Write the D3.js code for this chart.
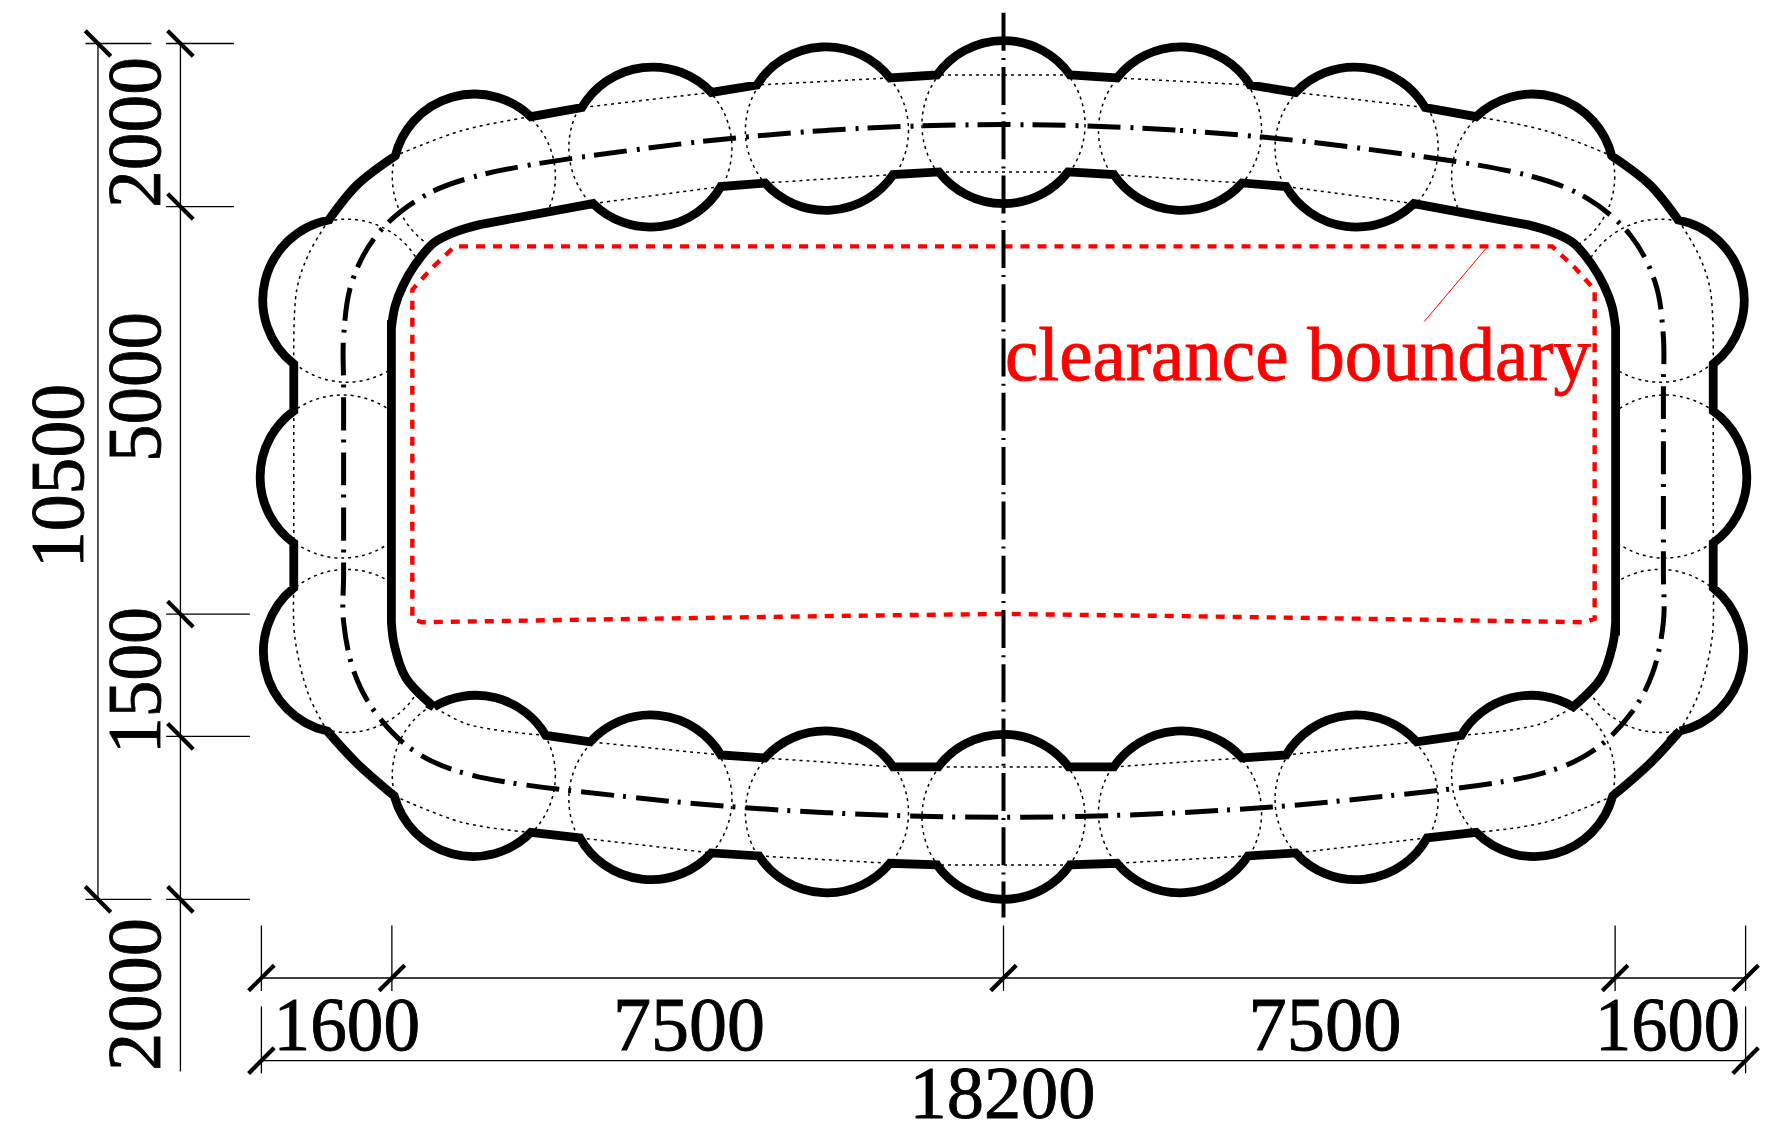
<!DOCTYPE html>
<html>
<head>
<meta charset="utf-8">
<script src="https://d3js.org/d3.v7.min.js"></script>
<style>
html,body{margin:0;padding:0;background:#fff}
svg{display:block}
text{font-family:"Liberation Serif","Times New Roman",serif;font-size:77px;fill:#000;stroke:#000;stroke-width:0.9px}
</style>
</head>
<body>
<svg id="chart" width="1782" height="1135"></svg>
<script>
// ---- data: section geometry in millimetres (x from the axis, y from the top dimension line), right half ----
const verticalSpans = [2000, 5000, 1500, 2000];
const horizontalSpans = [1600, 7500, 7500, 1600];
const overallWidth = 18200;
const overallHeight = 10500;
const boundaryLabel = "clearance boundary";
const pileRadius = 1000;

// pile centres [x, y], right half and axis
const pileCentres = [
  [0,995],[2165,1066],[4330,1279],[6495,1635],
  [8053,3155],[8107,5312],[8053,7452],
  [6495,8978],[4330,9271],[2165,9436],[0,9493]
];

// contour nodes: [x, y, kind of the segment that arrives here] (A arc, L line, C curve)
const outerContour = [
  [816,386,"M"],[1392,423,"L"],[3024,509,"A"],[3582,600,"L"],[5171,786,"A"],[5796,898,"L"],
  [7458,1378,"A"],[7925,1733,"C"],[8274,2165,"C"],[8703,3932,"A"],[8703,4508,"L"],
  [8703,6127,"A"],[8703,6679,"L"],[8293,8434,"A"],[7925,8834,"C"],[7471,9231,"C"],
  [5796,9679,"A"],[5195,9746,"L"],[3582,9930,"A"],[2999,9967,"L"],[1392,10057,"A"],[816,10077,"L"]
];
const innerContour = [
  [791,1576,"M"],[1352,1608,"L"],[2926,1711,"A"],[3465,1755,"L"],[5032,1964,"A"],[6422,2222,"L"],
  [6720,2310,"C"],[6984,2444,"C"],[7220,2720,"C"],[7366,2975,"C"],[7460,3220,"C"],[7506,3490,"C"],
  [7506,7096,"L"],[7470,7380,"C"],[7330,7780,"C"],[6986,8137,"C"],
  [5612,8488,"A"],[5068,8568,"L"],[3465,8728,"A"],[2926,8765,"L"],[1352,8875,"A"],[800,8875,"L"]
];

// centre line of the pile ring, right half
const ringLine = [
  [0,995],[2165,1066],[4330,1279],[6495,1635],[7158,1901],[7685,2349],[7992,2933],[8092,3600],
  [8092,4200],[8092,5300],[8092,6500],[8092,7096],[7960,7722],[7716,8188],[7262,8654],[6635,8945],
  [4330,9271],[2165,9436],[0,9493]
];

// dotted guide lines inside each pile, right half
const guideLines = [
  [[1392,423],[3024,509]],[[3582,600],[5171,786]],[[5796,898],[6635,1066],[7458,1378]],
  [[8274,2165],[8517,2577],[8667,3023],[8703,3932]],[[8703,4508],[8703,6127]],
  [[8703,6679],[8691,7278],[8521,7989],[8293,8434]],[[7471,9231],[6635,9556],[5796,9679]],
  [[5195,9746],[3582,9930]],[[2999,9967],[1392,10057]],
  [[1352,1608],[2926,1711]],[[3465,1755],[5032,1964]],
  [[1352,8875],[2926,8765]],[[3465,8728],[5068,8568]],[[5612,8488],[6563,8354],[6986,8137]]
];
// chords crossing the axis
const axisChords = [[816,386],[816,10077],[791,1576],[800,8875]];

// clearance boundary, right half
const clearanceLine = [
  [0,2489],[6729,2489],[7010,2754],[7249,3021],[7249,7056],[7133,7100],
  [4336,7056],[2226,7025],[0,6998]
];
const leaderLine = [[5938,2489],[5158,3413]];

// ---- scales ----
const x = d3.scaleLinear().domain([-overallWidth/2, overallWidth/2]).range([261.4, 1745.6]);
const y = d3.scaleLinear().domain([0, overallHeight]).range([43.5, 899.4]);
const r = v => x(v) - x(0);
const svg = d3.select("#chart");

const mirror = p => [-p[0], p[1]];
const curve = d3.line().x(d => x(d[0])).y(d => y(d[1])).curve(d3.curveCatmullRom.alpha(0.5));
const straight = d3.line().x(d => x(d[0])).y(d => y(d[1]));

function contourPath(nodes, sweep) {
  // full loop: right half, arc across the axis at the bottom, mirrored half, arc across at the top
  const segs = [];
  for (let i = 1; i < nodes.length; i++) {
    const k = nodes[i][2];
    if (k === "C" && segs.length && segs[segs.length-1].k === "C") segs[segs.length-1].pts.push(nodes[i]);
    else segs.push({k, pts:[nodes[i-1], nodes[i]]});
  }
  const mirrored = segs.slice().reverse().map(s => ({k:s.k, pts:s.pts.slice().reverse().map(mirror)}));
  const last = nodes[nodes.length-1], first = nodes[0];
  const all = [...segs, {k:"A", pts:[last, mirror(last)]}, ...mirrored, {k:"A", pts:[mirror(first), first]}];
  let d = "M" + x(first[0]) + "," + y(first[1]);
  const rad = r(pileRadius);
  all.forEach(s => {
    const e = s.pts[s.pts.length-1];
    if (s.k === "A") d += `A${rad},${rad} 0 0 ${sweep} ${x(e[0])},${y(e[1])}`;
    else if (s.k === "L") d += `L${x(e[0])},${y(e[1])}`;
    else d += curve(s.pts).replace(/^M/, "L");
  });
  return d + "Z";
}

// ---- dimension lines ----
const thin = svg.append("g").attr("stroke", "#000").attr("stroke-width", 1.3).attr("fill", "none");
const slash = svg.append("g").attr("stroke", "#000").attr("stroke-width", 4.2).attr("fill", "none");
const yTicks = [0, ...d3.cumsum(verticalSpans)];
const xTicks = [0, ...d3.cumsum(horizontalSpans)].map(v => v - overallWidth/2);
const hline = (g,x0,x1,yv) => g.append("line").attr("x1",x(x0)).attr("x2",x(x1)).attr("y1",y(yv)).attr("y2",y(yv));
const vline = (g,xv,y0,y1) => g.append("line").attr("x1",x(xv)).attr("x2",x(xv)).attr("y1",y(y0)).attr("y2",y(y1));
const D1 = -11104, D2 = -10093, H1 = 11464, H2 = 12478;

vline(thin, D1, 0, overallHeight);
vline(thin, D2, 0, 12612);
[0, overallHeight].forEach(v => hline(thin, -11257, -10449, v));
yTicks.forEach((v,i) => hline(thin, -10268, (i < 2) ? -9437 : -9241, v));
[0, overallHeight].forEach(v => slash.append("line")
  .attr("x1",x(D1)-12.8).attr("x2",x(D1)+12.8).attr("y1",y(v)-12.8).attr("y2",y(v)+12.8));
yTicks.forEach(v => slash.append("line")
  .attr("x1",x(D2)-12.8).attr("x2",x(D2)+12.8).attr("y1",y(v)-12.8).attr("y2",y(v)+12.8));

hline(thin, -overallWidth/2, overallWidth/2, H1);
hline(thin, -overallWidth/2, overallWidth/2, H2);
xTicks.forEach(v => {
  vline(thin, v, 10821, 11623);
  slash.append("line").attr("x1",x(v)-12.8).attr("x2",x(v)+12.8).attr("y1",y(H1)+12.8).attr("y2",y(H1)-12.8);
});
[-overallWidth/2, overallWidth/2].forEach(v => {
  vline(thin, v, 11812, 12634);
  slash.append("line").attr("x1",x(v)-12.8).attr("x2",x(v)+12.8).attr("y1",y(H2)+12.8).attr("y2",y(H2)-12.8);
});

// ---- dotted piles and guides ----
const dotted = svg.append("g").attr("fill","none").attr("stroke","#000").attr("stroke-width",1.5).attr("stroke-dasharray","3 4");
const allPiles = [...pileCentres, ...pileCentres.filter(p => p[0] !== 0).map(mirror)];
dotted.selectAll("circle").data(allPiles).join("circle")
  .attr("cx", d => x(d[0])).attr("cy", d => y(d[1])).attr("r", r(pileRadius));
const allGuides = [...guideLines, ...guideLines.map(g => g.map(mirror))];
dotted.selectAll("path.g").data(allGuides).join("path").attr("class","g").attr("d", curve);
dotted.selectAll("path.c").data(axisChords).join("path").attr("class","c")
  .attr("d", d => straight([d, mirror(d)]));

// ---- ring centre line ----
const ringClosed = [...ringLine, ...ringLine.slice(1,-1).reverse().map(mirror)];
const closedCurve = d3.line().x(d => x(d[0])).y(d => y(d[1])).curve(d3.curveCatmullRomClosed.alpha(0.5));
svg.append("path").attr("d", closedCurve(ringClosed))
  .attr("fill","none").attr("stroke","#000").attr("stroke-width",5)
  .attr("stroke-dasharray","33 10 3 9").attr("stroke-dashoffset",30);

// ---- thick contours (inner one hides the pile parts that reach into the opening) ----
svg.append("path").attr("d", contourPath(innerContour, 0))
  .attr("fill","#fff").attr("stroke","#000").attr("stroke-width",8.8).attr("stroke-linejoin","miter").attr("stroke-miterlimit",4);
svg.append("path").attr("d", contourPath(outerContour, 1))
  .attr("fill","none").attr("stroke","#000").attr("stroke-width",8.8).attr("stroke-linejoin","miter").attr("stroke-miterlimit",4);

// ---- clearance boundary ----
const clearanceClosed = [...clearanceLine, ...clearanceLine.slice(1,-1).reverse().map(mirror)];
svg.append("path").attr("d", straight(clearanceClosed) + "Z")
  .attr("fill","none").attr("stroke","#f00").attr("stroke-width",4.4).attr("stroke-dasharray","9 8");
svg.append("path").attr("d", straight(leaderLine)).attr("fill","none").attr("stroke","#f00").attr("stroke-width",1);

// ---- vertical axis ----
svg.append("path").attr("d", straight([[0,-378],[0,10723]]))
  .attr("fill","none").attr("stroke","#000").attr("stroke-width",4)
  .attr("stroke-dasharray","38 7.2 2 7.1");

// ---- text ----
const fmt = d3.format("d");
function hText(t, x0, x1, base, fill, size) {
  const s = svg.append("text").attr("x",x0).attr("y",base).attr("textLength",x1-x0)
    .attr("lengthAdjust","spacingAndGlyphs").text(t);
  if (fill) s.style("fill",fill).style("stroke",fill);
  if (size) s.style("font-size",size+"px");
}
function vText(t, yStart, yEnd, base) {
  svg.append("text").attr("transform",`translate(${base},${yStart}) rotate(-90)`)
    .attr("textLength",yStart-yEnd).attr("lengthAdjust","spacingAndGlyphs").text(t);
}
hText(boundaryLabel, 1005, 1591, 380.4, "#f00");
vText(fmt(verticalSpans[0]), 208, 57, 159.5);
vText(fmt(verticalSpans[1]), 462, 312, 159.5);
vText(fmt(verticalSpans[2]), 754, 607, 159.5);
vText(fmt(verticalSpans[3]), 1071, 918, 159.5);
vText(fmt(overallHeight), 568, 384, 82.8);
hText(fmt(horizontalSpans[0]), 273.5, 420, 1050);
hText(fmt(horizontalSpans[1]), 613, 765, 1050);
hText(fmt(horizontalSpans[2]), 1248.5, 1401.5, 1050);
hText(fmt(horizontalSpans[3]), 1595, 1740, 1050);
hText(fmt(overallWidth), 909.5, 1095.5, 1118, null, 75);
</script>
</body>
</html>
